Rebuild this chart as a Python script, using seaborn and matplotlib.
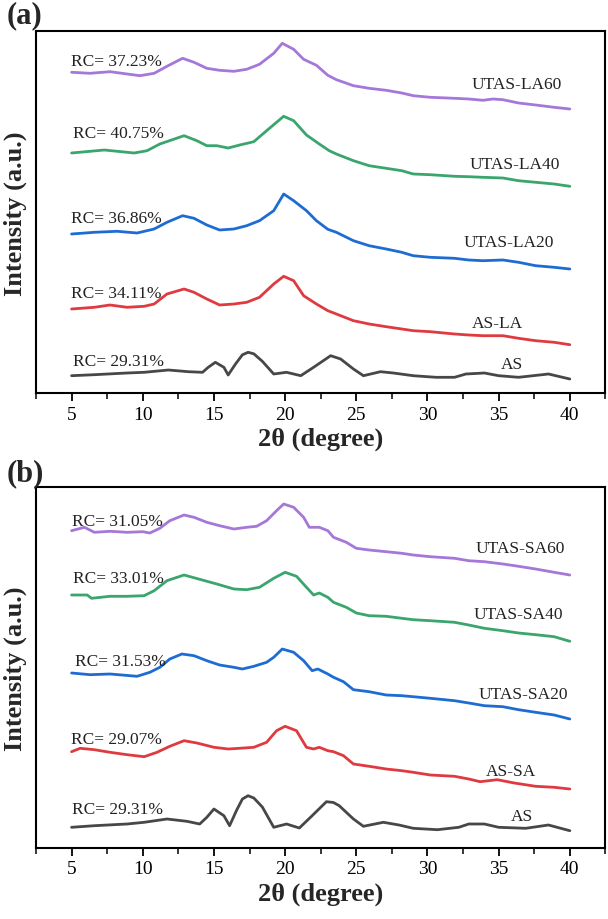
import numpy as np
import pandas as pd
import matplotlib
matplotlib.use('Agg')
import matplotlib.pyplot as plt
from matplotlib.ticker import MultipleLocator
import seaborn as sns

# --- Data (intensity in a.u., already stacked) ---
# panel (a): lauric acid series
x_la60 = [5, 6.3, 7.7, 8.9, 9.8, 10.8, 11.7, 12.8, 13.6, 14.5, 15.4, 16.4, 17.3, 18.2, 19.2, 19.8, 20.6, 21.3,
          22.2, 23, 23.6, 24.8, 25.9, 27.1, 28.2, 29, 30.2, 31.9, 32.9, 33.9, 34.6, 35.3, 36.4, 37.6, 38.9, 40]
i_la60 = [321, 320, 321.6, 319.3, 317.6, 320, 327, 335, 331, 325, 323, 322, 324, 329, 340, 350, 344, 334,
          328, 318, 313.6, 307.6, 305, 303, 300.3, 297.6, 296, 295, 294.3, 293, 294.3, 293.6, 290.3, 288.3, 286, 284.3]

x_la40 = [5, 7.3, 9.4, 10.3, 11.2, 12.9, 13.8, 14.5, 15.2, 16.0, 16.9, 17.8, 18.7, 19.9, 20.6, 21.5, 22.4,
          23.1, 23.6, 24.8, 25.9, 27.1, 28.2, 29, 30.2, 31.9, 32.9, 33.9, 35.3, 36.4, 37.6, 38.9, 40]
i_la40 = [240.3, 243.3, 240.3, 242.6, 249.3, 257.6, 252.6, 247.6, 247.6, 245.3, 248.6, 251.6, 262.6, 277, 272.6,
          258.3, 249.3, 242.6, 239.3, 232.6, 227.6, 225, 222.6, 219.3, 218.6, 217, 216.6, 216, 215.3, 212.6, 211,
          209.3, 207]

x_la20 = [5, 6.6, 8.2, 9.6, 10.8, 11.7, 12.8, 13.6, 14.5, 15.4, 16.4, 17.3, 18.2, 19.2, 19.9, 20.6, 21.5, 22.2,
          23, 23.6, 24.8, 25.9, 27.1, 28.2, 29, 30.2, 31.9, 32.9, 33.9, 35.3, 36.4, 37.6, 38.9, 40]
i_la20 = [159.3, 161, 162, 160.3, 164.3, 171, 177.6, 175, 168.3, 163.3, 164.3, 167.6, 172.6, 182.6, 199.3, 192.6,
          182.6, 172.6, 164, 161, 152.6, 147.6, 144.3, 141, 137.6, 136, 135, 133.3, 132.6, 133.3, 131, 127.6,
          126, 124.3]

x_asla = [5, 6.6, 7.7, 8.9, 10.1, 10.8, 11.7, 12.9, 13.6, 14.5, 15.4, 16.4, 17.3, 18.2, 19.2, 19.9, 20.6, 21.3,
          22.2, 23, 23.6, 24.8, 25.9, 27.1, 28.2, 29, 30.2, 31.9, 32.9, 33.9, 35.3, 36.4, 37.6, 38.9, 40]
i_asla = [84.3, 86, 88.3, 86, 87, 89.3, 99.3, 104.3, 101, 94.3, 88.3, 89.3, 91, 96, 109.3, 117, 112.6, 97.6,
          89.3, 82.6, 79.3, 72.6, 69.3, 66.6, 64.3, 62.6, 61.6, 59.3, 58.3, 57.6, 57.6, 55, 52.6, 51, 48.6]

x_as_a = [5, 6.6, 8.9, 10.1, 11.8, 13.2, 14.2, 14.6, 15.1, 15.7, 16.0, 16.5, 17.0, 17.4, 17.8, 18.4, 19.2, 20.1,
          21.1, 22.0, 23.2, 23.9, 24.8, 25.5, 26.7, 27.6, 29, 30.6, 31.9, 32.7, 34, 35, 36.4, 38.5, 40]
i_as_a = [17.6, 18.6, 20.3, 21, 23.3, 21.6, 21, 26, 31, 26, 18.3, 29, 38.5, 41, 39.5, 32, 19.3, 21,
          17.6, 26, 37.6, 34.3, 24.3, 17.6, 21.6, 20.3, 17.6, 16, 16, 19.3, 20.3, 17.6, 16, 19.3, 14.3]

# panel (b): stearic acid series
x_sa60 = [5, 5.9, 6.6, 7.7, 8.9, 10, 10.5, 11.2, 11.9, 12.9, 13.6, 14.5, 15.4, 16.4, 17.3, 18.0, 18.7, 19.4,
          19.9, 20.6, 21.3, 21.7, 22.4, 23, 23.4, 24.3, 25, 25.9, 27.1, 28.2, 29, 30.2, 31.9, 32.9, 34, 35.3,
          36.4, 37.6, 38.9, 40]
i_sa60 = [317.3, 320.7, 315.7, 316.7, 315.7, 316.3, 315, 319.7, 327.3, 333, 330.7, 325.7, 322.3, 319, 320.7,
          321.7, 327.3, 337.3, 344, 340.7, 330.7, 320.7, 320.7, 317.3, 310.7, 305.7, 299.7, 298, 296.3, 294.7,
          293, 291.3, 289.7, 287.3, 286.3, 284, 281.7, 279, 275.7, 273]

x_sa40 = [5, 6.1, 6.4, 7.7, 8.9, 10.1, 10.8, 11.7, 12.9, 14.1, 15.2, 16.4, 17.3, 18.2, 19.2, 20.0, 20.8, 21.5,
          22.0, 22.4, 23, 23.4, 24.3, 25, 25.9, 27.1, 28.2, 29, 30.2, 31.9, 32.9, 34, 35.3, 36.4, 37.6, 38.9, 40]
i_sa40 = [253, 253, 249.7, 251.7, 251.7, 252.3, 257.3, 267.3, 273, 268.3, 264, 259, 258.3, 260.7, 269.7, 275.7,
          271.7, 260.7, 253, 255, 250.7, 245.7, 240.7, 235, 232.3, 231.7, 229.7, 228.3, 227.3, 225.7, 223,
          219.7, 217.3, 215, 213.3, 211.3, 206.7]

x_sa20 = [5, 6.3, 7.7, 9.6, 10.5, 11.2, 11.9, 12.75, 13.6, 14.5, 15.4, 16.4, 17.0, 17.8, 18.7, 19.2, 19.8, 20.6,
          21.3, 21.9, 22.3, 23, 23.4, 24.1, 24.8, 25.9, 27.1, 28.2, 29, 30.2, 31.9, 32.9, 34, 35.3, 36.4, 37.6,
          38.9, 40]
i_sa20 = [175, 173.3, 174, 171.7, 175.7, 180.7, 189, 194, 192.3, 187.3, 183, 180.7, 179, 181.7, 185.7, 190.7,
          199, 195.7, 187.3, 177.3, 179, 174, 170.7, 166.3, 158.3, 156.3, 153, 152.3, 151.3, 149.7, 147.3, 145,
          142.3, 141.3, 138.3, 135.7, 133, 129]

x_assa = [5, 5.6, 6.6, 7.7, 8.9, 10.1, 11.0, 11.9, 12.9, 13.8, 15.0, 16.0, 16.8, 17.8, 18.7, 19.4, 20.0, 20.8,
          21.5, 22.0, 22.4, 23, 23.4, 24.1, 24.8, 25.9, 27.1, 28.2, 29, 30.2, 31.9, 32.9, 33.7, 34.9, 36.1, 37.6,
          38.9, 40]
i_assa = [96.3, 99.7, 98.3, 95.7, 93.3, 91.3, 95.7, 101.7, 107.3, 105, 100.7, 99, 99.7, 100.7, 105.7, 117.3,
          121.7, 117.3, 100.7, 99, 100.7, 97.3, 96.3, 92.3, 84, 81.7, 79, 77.3, 75.7, 73, 71.7, 69, 66.3, 68.3,
          65, 61.7, 60.7, 59]

x_as_b = [5, 6.6, 8.9, 10.1, 11.7, 13.1, 14.0, 14.5, 15.0, 15.7, 16.1, 16.6, 17.0, 17.4, 17.8, 18.4, 19.2, 20.1,
          21.0, 21.9, 22.9, 23.4, 23.8, 24.8, 25.5, 26.9, 28.0, 29, 30.7, 32.2, 32.9, 34, 35, 36.9, 38.5, 40]
i_as_b = [20.7, 22.3, 24, 25.7, 29, 26.7, 24, 30.7, 39, 32.3, 22.3, 38, 49, 52.3, 50, 41, 20.7, 24, 20, 32.3,
          46.3, 45.5, 42.3, 29, 21.7, 25.7, 23, 19.7, 18.3, 20.7, 24, 24, 20.7, 19.7, 23, 17.3]

names_a = ['UTAS-LA60', 'UTAS-LA40', 'UTAS-LA20', 'AS-LA', 'AS']
names_b = ['UTAS-SA60', 'UTAS-SA40', 'UTAS-SA20', 'AS-SA', 'AS']
rc_a = ['37.23', '40.75', '36.86', '34.11', '29.31']
rc_b = ['31.05', '33.01', '31.53', '29.07', '29.31']

colors = ['#a577d8', '#3aa56c', '#1e6cd2', '#df3a40', '#474747']

# label anchor positions (data coords)
rc_pos_a = [(4.94, 332.3), (5.07, 260.3), (4.94, 175.3), (4.94, 100.3), (5.08, 32.3)]
rc_pos_b = [(5.06, 327.3), (5.13, 269.7), (5.22, 187.3), (4.94, 109.0), (5.06, 39.0)]
nm_pos_a = [(33.07, 309.3), (32.95, 229.3), (32.53, 151.3), (33.14, 70.3), (35.12, 29.3)]
nm_pos_b = [(33.35, 299.7), (33.25, 234.0), (33.58, 154.0), (34.07, 77.3), (35.89, 32.3)]


def make_df(xs, ys, names):
    frames = []
    for x, y, n in zip(xs, ys, names):
        frames.append(pd.DataFrame({'two_theta': x, 'intensity': y, 'sample': n}))
    return pd.concat(frames, ignore_index=True)


df_a = make_df([x_la60, x_la40, x_la20, x_asla, x_as_a],
               [i_la60, i_la40, i_la20, i_asla, i_as_a], names_a)
df_b = make_df([x_sa60, x_sa40, x_sa20, x_assa, x_as_b],
               [i_sa60, i_sa40, i_sa20, i_assa, i_as_b], names_b)

sns.set_style('ticks')
plt.rcParams['font.family'] = ['Liberation Serif', 'DejaVu Serif']
plt.rcParams['mathtext.fontset'] = 'stix'

fig = plt.figure(figsize=(6.08, 9.2), dpi=100)
W, H = 608, 920
ax_a = fig.add_axes([36 / W, 1 - 394.3 / H, 569.4 / W, 362 / H])
ax_b = fig.add_axes([36 / W, 1 - 849 / H, 569.4 / W, 360.7 / H])


def draw_panel(ax, df, names, rcs, rc_pos, nm_pos, ytop):
    sns.lineplot(data=df, x='two_theta', y='intensity', hue='sample', hue_order=names,
                 palette=colors, estimator=None, sort=False, legend=False, linewidth=2.0, ax=ax)
    ax.set_xlim(2.5, 42.5)
    ax.set_ylim(0, ytop)
    ax.xaxis.set_major_locator(MultipleLocator(5))
    ax.xaxis.set_minor_locator(MultipleLocator(2.5))
    ax.set_yticks([])
    ax.tick_params(axis='x', which='major', direction='out', length=6, width=1.3,
                   labelsize=14, pad=3, colors='black')
    ax.tick_params(axis='x', which='minor', direction='out', length=4, width=1.3)
    for s in ax.spines.values():
        s.set_linewidth(1.5)
        s.set_color('black')
    ax.set_xlabel('2θ (degree)', fontsize=19, fontweight='bold', labelpad=3)
    ax.set_ylabel('Intensity (a.u.)', fontsize=19, fontweight='bold')
    ax.yaxis.set_label_coords(-0.016, 0.5)
    for r, (x, y) in zip(rcs, rc_pos):
        ax.text(x, y, 'RC= ' + r + '%', fontsize=12.5, ha='left', va='center', color='#222222')
    for n, (x, y) in zip(names, nm_pos):
        ax.text(x, y, n, fontsize=12.5, ha='left', va='center', color='#222222')


draw_panel(ax_a, df_a, names_a, rc_a, rc_pos_a, nm_pos_a, 362)
draw_panel(ax_b, df_b, names_b, rc_b, rc_pos_b, nm_pos_b, 360.7)

fig.text(7 / W, 1 - 1 / H, '(a)', fontsize=22, fontweight='bold', ha='left', va='top')
fig.text(7 / W, 1 - 459 / H, '(b)', fontsize=22, fontweight='bold', ha='left', va='top')

fig.savefig('out.png', dpi=100, facecolor='white')
